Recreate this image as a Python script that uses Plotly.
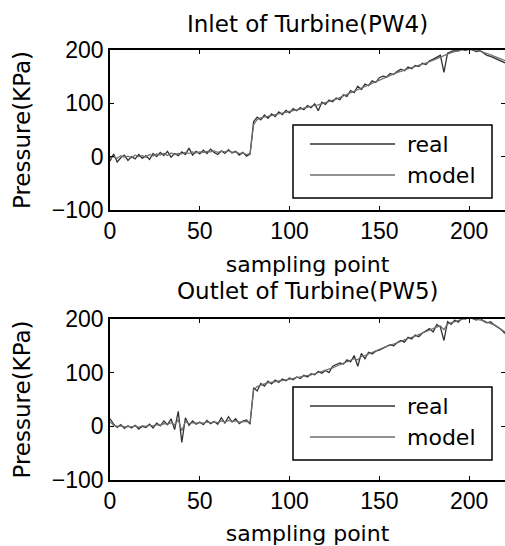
import plotly.graph_objects as go

# ---------------- data ----------------
sampling_point = list(range(0, 221, 2))

inlet_real = [-8, 5, -10, -2, 3, -7, 0, -4, 4, -3, 2, -5, 6, 0, 8, 2, 10, -1, 6, 2,
              9, 4, 16, 3, 10, 5, 12, 6, 14, 8, 4, 11, 6, 13, 7, 10, 3, 8, 1, 5,
              66, 74, 69, 78, 72, 80, 75, 84, 79, 87, 82, 90, 86, 92, 88, 96, 92, 99, 86, 102,
              98, 106, 103, 110, 107, 116, 113, 124, 120, 132, 126, 136, 133, 142, 139, 148, 151, 149, 156, 154,
              160, 164, 161, 168, 165, 171, 169, 175, 173, 180, 183, 186, 190, 158, 194, 197, 200, 198, 202, 199,
              203, 200, 197, 199, 194, 190, 188, 185, 182, 179, 176]
inlet_model = [-2, 0, -3, 2, -1, 1, -2, 3, 0, 2, -1, 4, 1, 5, 3, 6, 2, 7, 4, 6,
               5, 8, 6, 9, 7, 9, 8, 10, 9, 11, 8, 10, 9, 11, 8, 9, 6, 7, 4, 6,
               60, 70, 73, 74, 76, 77, 79, 80, 82, 83, 85, 86, 88, 89, 91, 93, 94, 96, 97, 99,
               101, 103, 106, 108, 111, 114, 117, 120, 123, 126, 129, 132, 135, 138, 141, 144, 147, 150, 153, 156,
               158, 160, 163, 165, 167, 169, 171, 174, 176, 178, 181, 184, 187, 189, 192, 195, 197, 199, 200, 201,
               201, 201, 200, 198, 196, 193, 191, 188, 186, 183, 180]
outlet_real = [14, 4, -2, 3, -4, 1, -3, 2, -5, 0, -2, 4, -3, 6, 1, 10, 3, 14, -6, 28,
               -30, 16, 2, 10, 4, 8, 3, 11, 5, 9, 4, 16, 6, 18, 8, 14, 5, 10, 12, 4,
               72, 66, 80, 75, 84, 79, 86, 82, 88, 85, 90, 87, 92, 89, 95, 92, 98, 96, 102, 99,
               104, 100, 112, 115, 118, 116, 124, 120, 132, 112, 136, 126, 138, 135, 140, 142, 145, 148, 152, 150,
               156, 160, 157, 166, 163, 170, 167, 174, 178, 182, 176, 190, 185, 160, 195, 190, 198, 194, 202, 200,
               204, 201, 198, 202, 196, 193, 195, 189, 184, 180, 173]
outlet_model = [8, 2, 0, 1, -1, 0, -1, 1, -2, 1, 0, 2, 1, 3, 2, 5, 4, 7, 3, 12,
                -8, 9, 5, 7, 6, 7, 6, 8, 7, 8, 7, 10, 8, 11, 9, 10, 8, 9, 9, 7,
                68, 74, 77, 79, 81, 82, 84, 85, 86, 87, 88, 89, 91, 92, 93, 95, 96, 98, 100, 102,
                104, 106, 109, 112, 115, 117, 120, 123, 126, 124, 130, 132, 135, 138, 140, 143, 146, 149, 151, 153,
                156, 158, 161, 164, 166, 168, 171, 174, 177, 180, 182, 185, 187, 180, 191, 193, 196, 198, 200, 201,
                202, 201, 200, 199, 197, 194, 192, 189, 185, 181, 176]

x_ticks = [0, 50, 100, 150, 200]
y_ticks = [-100, 0, 100, 200]
series_names = ["real", "model"]
panel_titles = ["Inlet of Turbine(PW4)", "Outlet of Turbine(PW5)"]

# ---------------- styling ----------------
W, H = 505, 546
ML, MR, MT, MB = 110, 0, 50, 66
PW, PH = W - ML - MR, H - MT - MB
REAL_C = "#333333"
MODEL_C = "#6e6e6e"
TXT_FONT = "DejaVu Sans, Arial, sans-serif"
NUM_FONT = "Liberation Sans, Arial, sans-serif"


def px_x(p):
    return (p - ML) / PW


def px_y(p):
    return (H - MB - p) / PH


fig = go.Figure()
panels = [(inlet_real, inlet_model, "x", "y"), (outlet_real, outlet_model, "x2", "y2")]
for real, model, xa, ya in panels:
    fig.add_trace(go.Scatter(x=sampling_point, y=real, mode="lines", name=series_names[0],
                             line=dict(color=REAL_C, width=1.3), xaxis=xa, yaxis=ya, showlegend=False))
    fig.add_trace(go.Scatter(x=sampling_point, y=model, mode="lines", name=series_names[1],
                             line=dict(color=MODEL_C, width=1.2), xaxis=xa, yaxis=ya, showlegend=False))

axis_common = dict(showline=True, linecolor="black", linewidth=1.5, mirror="ticks",
                   ticks="inside", ticklen=4, tickcolor="black", showgrid=False, zeroline=False,
                   automargin=False,
                   tickfont=dict(family=NUM_FONT, size=23, color="black"))

top_dom = [px_y(210), 1.0]
bot_dom = [0.0, px_y(319)]

xt = dict(text="sampling point", font=dict(family=TXT_FONT, size=22, color="black"), standoff=13)
yt = dict(text="Pressure(KPa)", font=dict(family=TXT_FONT, size=23, color="black"), standoff=15)

fig.update_layout(
    width=W, height=H, margin=dict(l=ML, r=MR, t=MT, b=MB),
    paper_bgcolor="white", plot_bgcolor="white",
    xaxis=dict(domain=[0, 1], range=[0, 220], tickvals=x_ticks, anchor="y", title=xt, **axis_common),
    yaxis=dict(domain=top_dom, range=[-100, 200], tickvals=y_ticks, anchor="x", title=yt, **axis_common),
    xaxis2=dict(domain=[0, 1], range=[0, 220], tickvals=x_ticks, anchor="y2", title=xt, **axis_common),
    yaxis2=dict(domain=bot_dom, range=[-100, 200], tickvals=y_ticks, anchor="x2", title=yt, **axis_common),
    showlegend=False,
)

# panel titles
for title, ypx in zip(panel_titles, [24, 291]):
    fig.add_annotation(text=title, x=0.5, y=px_y(ypx), xref="paper", yref="paper",
                       xanchor="center", yanchor="middle", showarrow=False,
                       font=dict(family=TXT_FONT, size=23, color="black"))

# legends (one per panel)
for off in [0, 262]:
    fig.add_shape(type="rect", xref="paper", yref="paper",
                  x0=px_x(293), x1=px_x(492), y0=px_y(198 + off), y1=px_y(125 + off),
                  line=dict(color="black", width=1.5), fillcolor="white")
    for name, color, ly in [(series_names[0], REAL_C, 144), (series_names[1], MODEL_C, 175)]:
        fig.add_shape(type="line", xref="paper", yref="paper",
                      x0=px_x(310), x1=px_x(395), y0=px_y(ly + off), y1=px_y(ly + off),
                      line=dict(color=color, width=1.5))
        fig.add_annotation(text=name, x=px_x(405), y=px_y(ly + off), xref="paper", yref="paper",
                           xanchor="left", yanchor="middle", showarrow=False,
                           font=dict(family=TXT_FONT, size=22, color="black"))

fig.write_html("out.html", config={"responsive": False, "displayModeBar": False},
               post_script="document.body.style.margin='0';document.body.style.overflow='hidden';")
